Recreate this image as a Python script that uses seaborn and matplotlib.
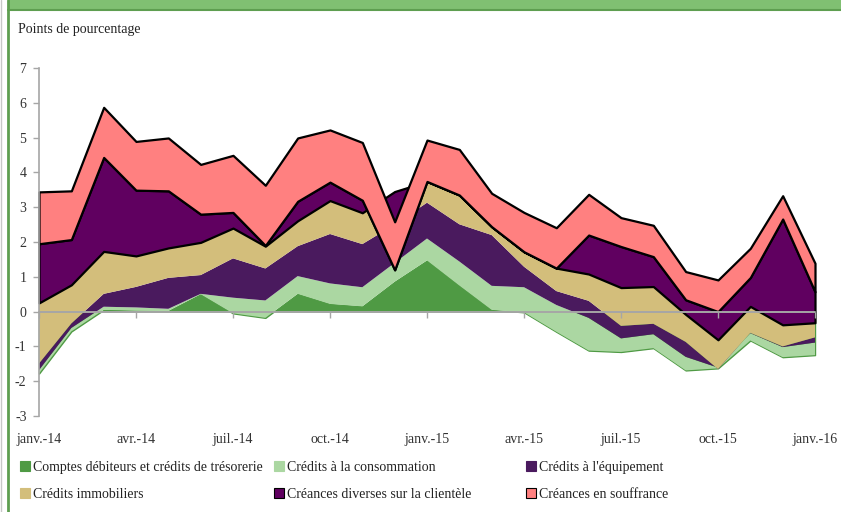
import numpy as np
import pandas as pd
import seaborn as sns
from matplotlib import pyplot as plt
from matplotlib.patches import Patch, Rectangle
from matplotlib.lines import Line2D

# Contributions mensuelles (points de pourcentage), janv.-14 -> janv.-16
mois = pd.date_range("2014-01-01", "2016-01-01", freq="MS")

comptes = [-1.78, -0.57, 0.05, 0.03, 0.02, 0.50, -0.05, -0.18, 0.51, 0.22, 0.15, 0.86, 1.47,
           0.75, 0.05, -0.02, -0.58, -1.12, -1.16, -1.05, -1.69, -1.63, -0.83, -1.31, -1.25]
conso = [0.10, 0.10, 0.09, 0.09, 0.06, 0.01, 0.45, 0.50, 0.51, 0.59, 0.55, 0.54, 0.63,
         0.69, 0.69, 0.72, 0.77, 0.94, 0.39, 0.40, 0.39, 0.02, 0.21, 0.29, 0.36]
equipement = [0.19, 0.13, 0.37, 0.59, 0.89, 0.54, 1.13, 0.92, 0.86, 1.42, 1.24, 1.10, 1.03,
              1.07, 1.46, 0.59, 0.40, 0.49, 0.36, 0.30, 0.43, -0.04, 0.01, 0.02, 0.15]
immobiliers = [1.74, 1.11, 1.22, 0.89, 0.86, 0.94, 0.87, 0.64, 0.73, 0.96, 0.90, 0.95, 0.61,
               0.84, 0.24, 0.43, 0.66, 0.77, 1.10, 1.07, 0.79, 0.84, 0.76, 0.62, 0.42]
diverses = [1.70, 1.30, 2.70, 1.89, 1.64, 0.81, 0.45, 0.02, 0.56, 0.53, 0.36, -2.25, 0.00,
            0.00, 0.00, 0.00, 0.00, 1.12, 1.18, 0.86, 0.42, 0.81, 0.83, 3.04, 0.89]
souffrance = [1.49, 1.40, 1.44, 1.40, 1.52, 1.43, 1.64, 1.73, 1.82, 1.50, 1.66, 1.38, 1.19,
              1.31, 0.96, 1.13, 1.16, 1.17, 0.83, 0.90, 0.81, 0.91, 0.84, 0.67, 0.82]

tick_labels = ["janv.-14", "avr.-14", "juil.-14", "oct.-14", "janv.-15",
               "avr.-15", "juil.-15", "oct.-15", "janv.-16"]

# nom, valeurs, couleur de remplissage, couleur de bordure
series = [
    ("Comptes débiteurs et crédits de trésorerie", comptes, "#4f9a44", "#4f9a44"),
    ("Crédits à la consommation", conso, "#abd7a2", "none"),
    ("Crédits à l'équipement", equipement, "#4a1a5e", "none"),
    ("Crédits immobiliers", immobiliers, "#d3be7b", "none"),
    ("Créances diverses sur la clientèle", diverses, "#600060", "black"),
    ("Créances en souffrance", souffrance, "#ff8080", "black"),
]

df = pd.DataFrame({nom: valeurs for nom, valeurs, _, _ in series}, index=mois)
cumul = df.cumsum(axis=1)          # aires empilées comme dans Excel
x = np.arange(len(df))

sns.set_theme(style="white")
plt.rcParams["font.family"] = ["Liberation Serif", "DejaVu Serif"]
plt.rcParams["axes.unicode_minus"] = False

W, H = 841, 512
fig = plt.figure(figsize=(W / 100, H / 100), dpi=100)
ax = fig.add_axes([39 / W, 96 / H, 776 / W, 348 / H])

base = np.zeros(len(df))
for nom, _, couleur, bord in series:
    haut = cumul[nom].to_numpy()
    lw = 0 if bord == "none" else (1.0 if bord != "black" else 1.6)
    ax.fill_between(x, base, haut, facecolor=couleur, edgecolor=bord,
                    linewidth=lw, clip_on=False)
    base = haut

ymin, ymax = -3, 7
ax.set_xlim(0, len(df) - 1)
ax.set_ylim(ymin, ymax)
ax.set_yticks(range(ymin, ymax + 1))
ax.set_xticks(range(0, len(df), 3))
ax.set_xticklabels(tick_labels)
ax.tick_params(axis="x", length=0, pad=12, labelsize=10, labelcolor="#333333")
ax.tick_params(axis="y", left=True, direction="out", length=4, width=1,
               color="#a6a6a6", pad=5, labelsize=10, labelcolor="#333333")
for s in ["top", "right", "bottom"]:
    ax.spines[s].set_visible(False)
ax.spines["left"].set_color("#a6a6a6")
ax.spines["left"].set_linewidth(1.2)

# ligne du zéro avec ses graduations
ax.axhline(0, color="#a6a6a6", linewidth=1.2, zorder=5)
sec = ax.secondary_xaxis((0 - ymin) / (ymax - ymin))
sec.set_zorder(6)
sec.set_xticks(range(0, len(df), 3))
sec.set_xticklabels([])
sec.tick_params(direction="out", length=4, width=1, color="#a6a6a6")
sec.spines["bottom"].set_color("#a6a6a6")
sec.spines["bottom"].set_linewidth(1.2)

fig.text(18 / W, 1 - 29 / H, "Points de pourcentage", ha="left", va="center",
         fontsize=10, color="#222222")

# légende : 3 colonnes x 2 lignes, remplie par lignes
handles = [Patch(facecolor=c, edgecolor=("black" if b == "black" else c), linewidth=0.8)
           for _, _, c, b in series]
noms = [nom for nom, _, _, _ in series]
for col, xpos in enumerate([20, 274, 526]):
    fig.legend([handles[col], handles[col + 3]], [noms[col], noms[col + 3]],
               loc="upper left", bbox_to_anchor=(xpos / W, 1 - 461 / H),
               frameon=False, fontsize=10, handlelength=0.7, handleheight=0.7,
               handletextpad=0.25, labelspacing=1.0, borderpad=0, borderaxespad=0,
               labelcolor="#222222")

# cadre vert du document
fig.patches.append(Rectangle((7.5 / W, 1 - 10 / H), 1, 10 / H, transform=fig.transFigure,
                             facecolor="#80c072", edgecolor="none", figure=fig))
fig.lines.append(Line2D([7.5 / W, 1], [1 - 10 / H, 1 - 10 / H], transform=fig.transFigure,
                        color="#5e9e50", linewidth=1.5, figure=fig))
fig.lines.append(Line2D([7.5 / W, 7.5 / W], [0, 1], transform=fig.transFigure,
                        color="#5e9e50", linewidth=2, figure=fig))
fig.lines.append(Line2D([1 / W, 1 / W], [0, 1], transform=fig.transFigure,
                        color="#c8c8c8", linewidth=1, figure=fig))

fig.savefig("out.png", dpi=100)
